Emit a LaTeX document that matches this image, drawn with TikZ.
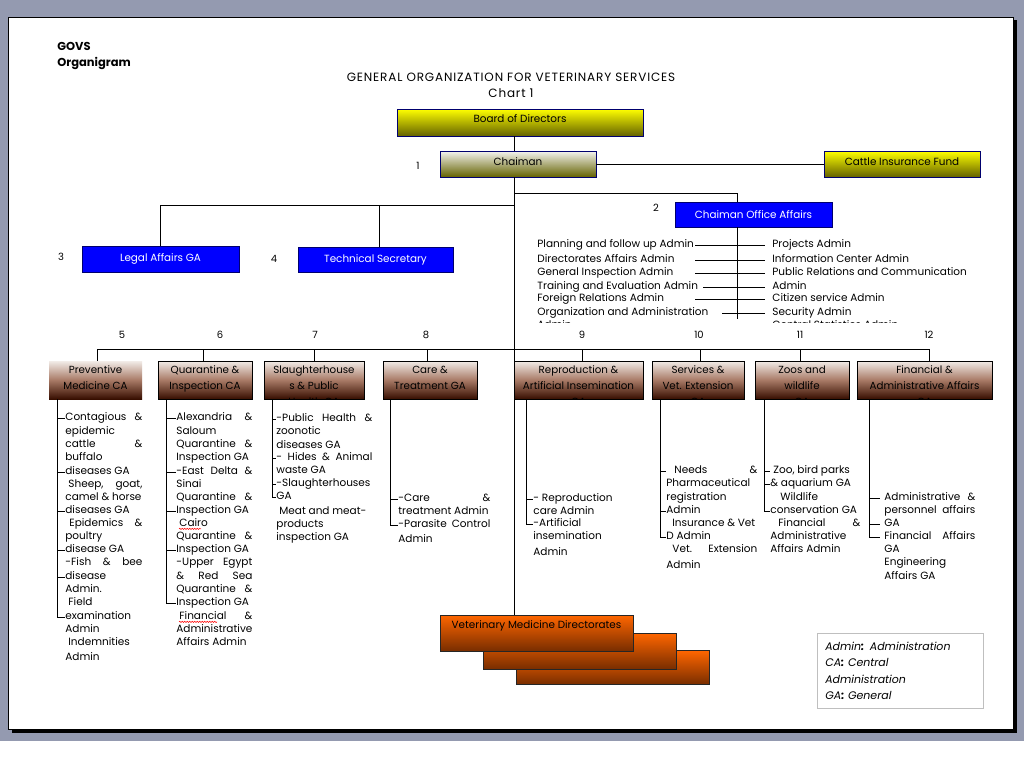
\documentclass[tikz,border=0pt]{standalone}
\usepackage{fontspec}
\setmainfont{Poppins}
\usetikzlibrary{decorations.pathmorphing}
\definecolor{pagegray}{RGB}{148,154,176}
\definecolor{olivebot}{RGB}{100,98,0}
\definecolor{chairtop}{RGB}{244,244,240}
\definecolor{browntop}{RGB}{242,236,232}
\definecolor{brownmid}{RGB}{168,122,102}
\definecolor{brownbot}{RGB}{55,14,0}
\definecolor{orangetop}{RGB}{255,102,0}
\definecolor{orangebot}{RGB}{120,45,0}
\definecolor{navyline}{RGB}{0,0,110}
\definecolor{boxblue}{RGB}{0,0,255}
\begin{document}
\begin{tikzpicture}[x=1pt,y=-1pt,line width=0.8pt,
	box/.style={rectangle,inner sep=0pt,font=\fontsize{10.4}{12}\selectfont},
	ybox/.style={box,draw=navyline,top color=yellow,bottom color=olivebot},
	chairbox/.style={box,draw=navyline,top color=chairtop,bottom color=olivebot},
	bluebox/.style={box,draw=navyline,fill=boxblue,text=white},
	gabox/.style={box,top color=browntop,bottom color=brownbot,middle color=brownmid,minimum height=38pt},
	gatext/.style={inner sep=0pt,align=center,font=\fontsize{10.3}{16}\selectfont},
	vmdbox/.style={box,draw=black!85,top color=orangetop,bottom color=orangebot,minimum width=193pt,minimum height=36pt},
	lst/.style={anchor=west,inner sep=0pt,text height=7pt,text depth=2pt,font=\fontsize{10.5}{13}\selectfont},
	num/.style={inner sep=0pt,font=\fontsize{10}{11}\selectfont},
	squig/.style={red,line width=0.5pt,decorate,decoration={snake,amplitude=0.7pt,segment length=2.5pt}}]
	\useasboundingbox (0,0) rectangle (1024,768);
	% page
	\fill[pagegray] (0,0) rectangle (1024,741);
	\draw[fill=white] (8,17) rectangle (1013,729);
	\draw[line width=3.5pt] (12,731) -- (1015,731) -- (1015,20);
	% titles
	\node[inner sep=0pt,anchor=west,align=left,font=\fontsize{11.5}{16}\bfseries] (govs) at (57,56) {GOVS\\Organigram};
	\node[inner sep=0pt,align=center,font=\fontsize{12}{16}\selectfont\addfontfeatures{LetterSpace=7}] (title) at (511,85) {GENERAL ORGANIZATION FOR VETERINARY SERVICES\\Chart 1};
	% top boxes
	\node[ybox,minimum width=246pt,minimum height=27pt,text height=7pt,text depth=7pt] (board) at (520,122.5) {Board of Directors};
	\node[chairbox,minimum width=156pt,minimum height=26pt,text height=7pt,text depth=4pt] (chairman) at (518,164) {Chaiman};
	\node[ybox,minimum width=156pt,minimum height=26pt,text height=7pt,text depth=4pt] (cattle) at (902,164) {Cattle Insurance Fund};
	\node[bluebox,minimum width=157pt,minimum height=25pt] (coa) at (753.5,214.5) {Chaiman Office Affairs};
	\node[bluebox,minimum width=157pt,minimum height=26pt] (legal) at (160.5,259) {Legal Affairs GA};
	\node[bluebox,minimum width=155pt,minimum height=25pt] (techsec) at (375.5,259.5) {Technical Secretary};
	\node[num] (n1) at (418,166) {1};
	\node[num] (n2) at (656,208) {2};
	\node[num] (n3) at (61,257) {3};
	\node[num] (n4) at (274,259) {4};
	% directorates
	\node[vmdbox,minimum height=34pt] (vmd3) at (612.5,667.5) {};
	\node[vmdbox] (vmd2) at (579.5,651) {};
	\node[vmdbox,text height=6.5pt,text depth=16.5pt] (vmd1) at (536.5,633) {Veterinary Medicine Directorates};
	% connectors
	\coordinate (trunk) at (514,0);
	\draw (board.south -| trunk) -- (chairman.north -| trunk);
	\draw (chairman.east) -- (cattle.west);
	\draw (chairman.south -| trunk) -- (vmd1.north -| trunk);
	\coordinate (co-v) at (737,227);
	\coordinate (co-e) at (737,319);
	\coordinate (k-coa) at (514,193);
	\coordinate (k-leg) at (514,205);
	\draw (k-coa) -| (co-v |- coa.north);
	\draw (k-leg) -| (legal.north);
	\draw ([xshift=3.5pt]techsec.north) -- ([xshift=3.5pt]techsec.north |- k-leg);
	\draw (co-v |- coa.south) -- (co-e);
	% chairman office list
	\begin{scope}
		\clip (500,230) rectangle (1000,322);
		\foreach \y/\t [count=\i] in {245/{Planning and follow up Admin},260/{Directorates Affairs Admin},273/{General Inspection Admin},287/{Training and Evaluation Admin},299/{Foreign Relations Admin},313/{Organization and Administration},326/Admin}
			\node[lst] (col\i) at (537,\y) {\t};
		\foreach \y/\t [count=\i] in {245/{Projects Admin},260/{Information Center Admin},273/{Public Relations and Communication},287/Admin,299/{Citizen service Admin},313/{Security Admin},326/{Central Statistics Admin}}
			\node[lst] (cor\i) at (772,\y) {\t};
	\end{scope}
	\foreach \i/\l in {1/42,2/42,3/42,4/34,5/42,6/15}
		\draw (co-v |- col\i.west) +(-\l,0) -- +(28,0);
	% general administrations
	\foreach \n/\a/\b/\c/\k/\s/\v/\d/\t in {
		pm/49/142/97/5/122/57/none/{Preventive\\Medicine CA},
		qi/158/252/203/6/220/166/black/{Quarantine \&\\Inspection CA},
		sp/264/364/314/7/315/272/black/{Slaughterhouse\\s \& Public\\Health GA},
		ct/383/477/427/8/426/390/black/{Care \&\\Treatment GA},
		ra/514/643/582/9/582/526/black/{Reproduction \&\\Artificial Insemination\\GA},
		sv/652/744/700/10/699/660/black/{Services \&\\Vet. Extension\\GA},
		zw/755/849/800/11/800/764/black/{Zoos and\\wildlife\\GA},
		fa/857/992/929/12/929/869/black/{Financial \&\\Administrative Affairs\\GA}}{
		\node[gabox,draw=\d,minimum width={(\b-\a)*1pt}] (\n) at ({(\a+\b)/2},380) {};
		\begin{scope}
			\clip (\n.south west) rectangle (\n.north east);
			\node[gatext,anchor=north] (\n-t) at ([yshift=-5pt]\n.north) {\t};
		\end{scope}
		\coordinate (\n-bus) at (\c,349);
		\draw (\n-bus) -- (\n-bus |- \n.north);
		\node[num] (\n-num) at (\s,335) {\k};
		\coordinate (\n-v) at (\v,399);
	}
	\draw (pm-bus) -- (fa-bus);
	% lists
	\foreach \y/\t [count=\i] in {418/{Contagious\hfill\&},432/epidemic,445/{cattle\hfill\&},458/buffalo,472/{diseases GA},485/{\hspace*{3pt}Sheep,\hfill goat,},498/{camel \& horse},511/{diseases GA},524/{\hspace*{4pt}Epidemics\hfill\&},537/poultry,550/{disease GA},563/{-Fish\hfill\&\hfill bee},577/disease,590/Admin.,603/{\hspace*{3pt}Field},617/examination,630/Admin,643/{\hspace*{3pt}Indemnities},658/Admin}
		\node[lst] (pm\i) at (65,\y) {\makebox[77pt][l]{\t}};
	\foreach \i in {1,5,8,11,13} \draw (pm-v |- pm\i.west) -- (pm\i.west);
	\draw (pm-v) |- (pm16.west);
	\foreach \y/\t [count=\i] in {418/{Alexandria\hfill\&},432/Saloum,445/{Quarantine\hfill\&},458/{Inspection GA},472/{-East\hfill Delta\hfill\&},485/Sinai,498/{Quarantine\hfill\&},511/{Inspection GA},524/{\hspace*{3pt}Cairo},537/{Quarantine\hfill\&},550/{Inspection GA},563/{-Upper\hfill Egypt},577/{\&\hfill Red\hfill Sea},590/{Quarantine\hfill\&},603/{Inspection GA},617/{\hspace*{3pt}Financial\hfill\&},630/Administrative,643/{Affairs Admin}}
		\node[lst] (qi\i) at (176,\y) {\makebox[76pt][l]{\t}};
	\foreach \i in {1,5,8,11} \draw (qi-v |- qi\i.west) -- (qi\i.west);
	\draw (qi-v) |- (qi15.west);
	\draw[squig] ([xshift=3pt]qi9.south west) -- ++(22,0);
	\draw[squig] ([xshift=3pt]qi16.south west) -- ++(38,0);
	\foreach \y/\t [count=\i] in {419/{-Public\hfill Health\hfill\&},432/zoonotic,446/{diseases GA},458/{-\hfill Hides\hfill\&\hfill Animal},471/{waste GA},484/{-Slaughterhouses},497/GA,512/{\hspace*{3pt}Meat and meat-},525/products,538/{inspection GA}}
		\node[lst] (sp\i) at (276,\y) {\makebox[96pt][l]{\t}};
	\foreach \i in {1,4,6} \draw (sp-v |- sp\i.west) -- (sp\i.west);
	\draw (sp-v) |- (sp7.west);
	\foreach \y/\t [count=\i] in {499/{-Care\hfill\&},512/{treatment Admin},525/{-Parasite\hfill Control},540/Admin}
		\node[lst] (ct\i) at (398,\y) {\makebox[92pt][l]{\t}};
	\draw (ct-v |- ct1.west) -- (ct1.west);
	\draw (ct-v) |- (ct3.west);
	\foreach \y/\t [count=\i] in {499/{- Reproduction},512/{care Admin},524/{-Artificial},537/insemination,553/Admin}
		\node[lst] (ra\i) at (533,\y) {\makebox[76pt][l]{\t}};
	\draw (ra-v |- ra1.west) -- (ra1.west);
	\draw (ra-v) |- (ra3.west);
	\foreach \y/\t [count=\i] in {471/{\hspace*{8pt}Needs\hfill\&},484/Pharmaceutical,498/registration,511/Admin,524/{\hspace*{6pt}Insurance \& Vet},537/{D Admin},550/{\hspace*{6pt}Vet.\hfill Extension},566/Admin}
		\node[lst] (sv\i) at (666,\y) {\makebox[91pt][l]{\t}};
	\foreach \i in {1,4} \draw (sv-v |- sv\i.west) -- (sv\i.west);
	\draw (sv-v) |- (sv6.west);
	\foreach \y/\t [count=\i] in {471/{\hspace*{3pt}Zoo, bird parks},484/{\& aquarium GA},498/{\hspace*{10pt}Wildlife},511/{conservation GA},524/{\hspace*{8pt}Financial\hfill\&},537/Administrative,550/{Affairs Admin}}
		\node[lst] (zw\i) at (770,\y) {\makebox[90pt][l]{\t}};
	\foreach \i in {1,2} \draw (zw-v |- zw\i.west) -- (zw\i.west);
	\draw (zw-v) |- (zw4.west);
	\foreach \y/\t [count=\i] in {498/{Administrative\hfill\&},511/{personnel\hfill affairs},524/GA,537/{Financial\hfill Affairs},550/GA,563/Engineering,577/{Affairs GA}}
		\node[lst] (fa\i) at (884,\y) {\makebox[91pt][l]{\t}};
	\foreach \i in {1,3} \draw (fa-v |- fa\i.west) -- ([xshift=-4pt]fa\i.west);
	\draw (fa-v) |- ([xshift=-4pt]fa4.west);
	% legend
	\node[draw=black!25,line width=0.6pt,anchor=north west,minimum height=75pt,text width=150pt,inner xsep=8pt,inner ysep=0pt,align=left,font=\fontsize{11}{16.3}\itshape] (legend) at (817,633) {Admin\textbf{:} Administration\\CA\textbf{:} Central\\Administration\\GA\textbf{:} General};
\end{tikzpicture}
\end{document}
